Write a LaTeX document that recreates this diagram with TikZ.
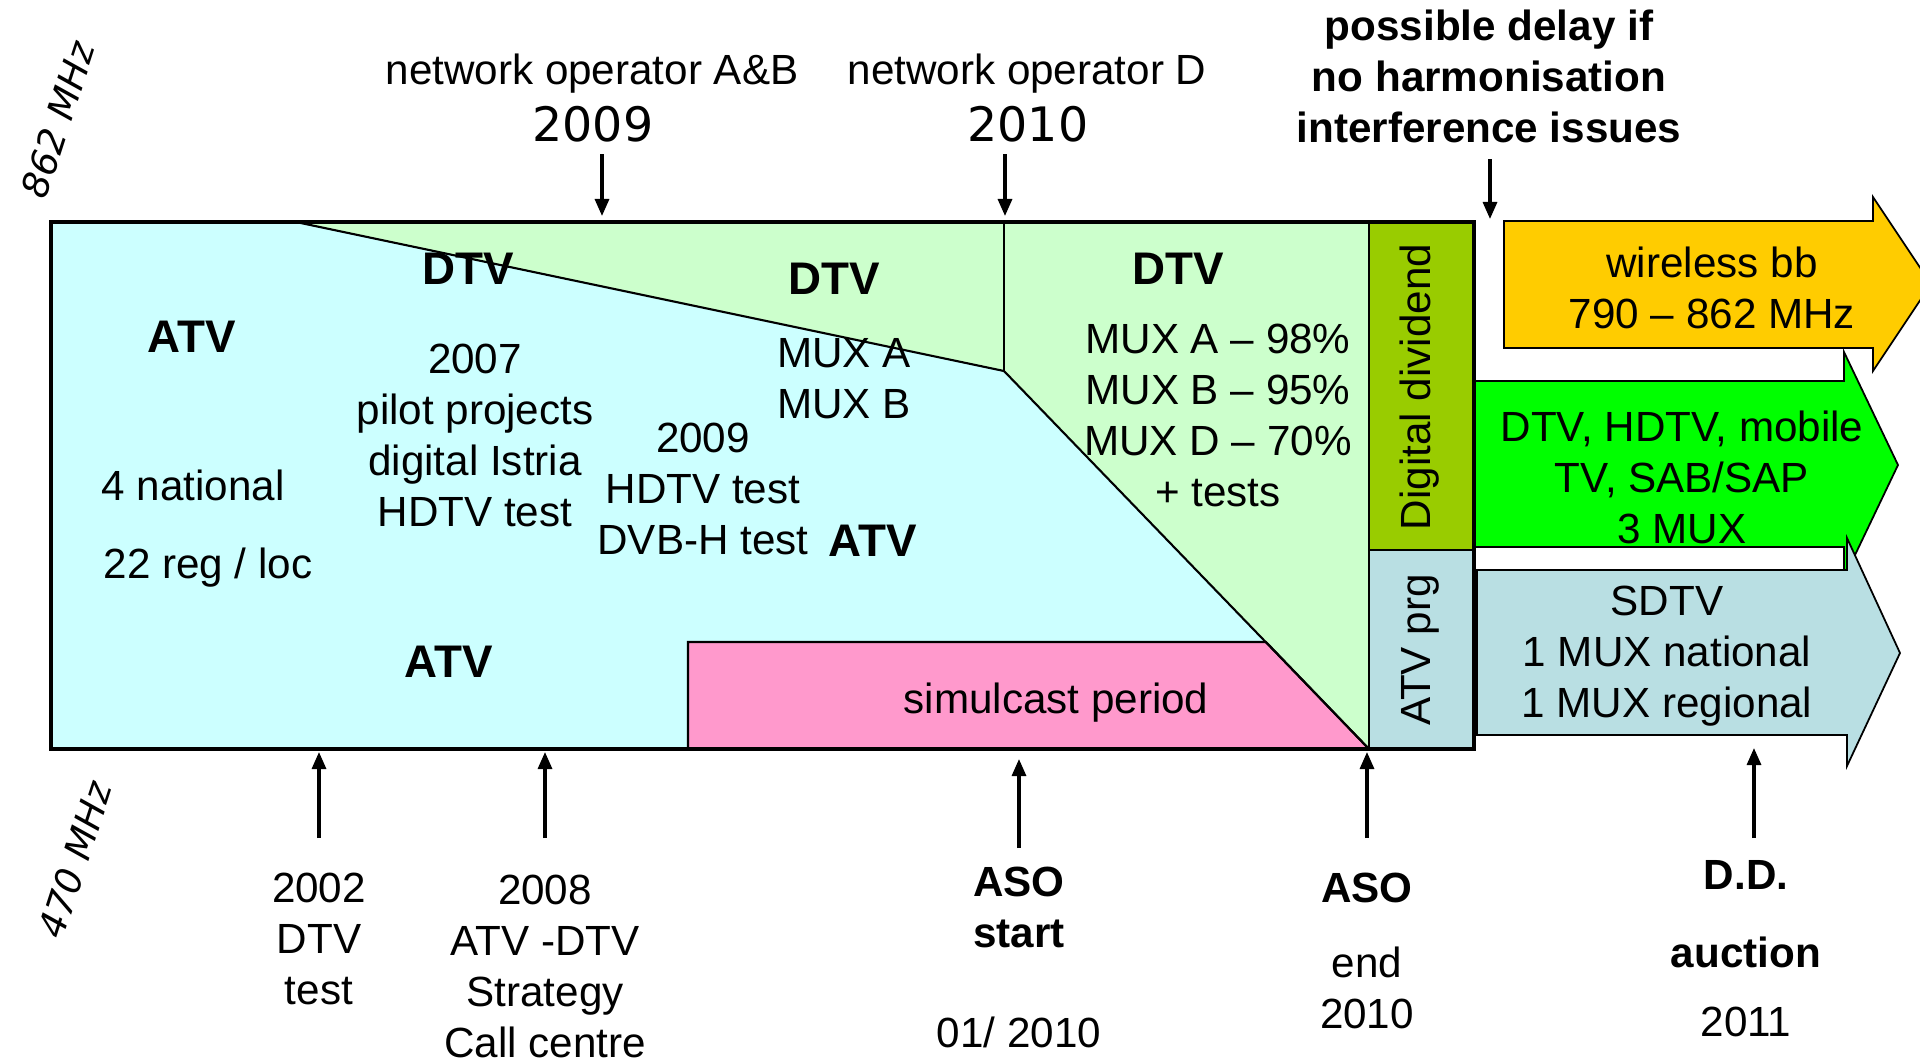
\documentclass[tikz,border=0pt]{standalone}
\usepackage{fontspec}
\setmainfont{Liberation Sans}
\newfontfamily\dvfont[ItalicFont={DejaVu Sans Oblique}]{DejaVu Sans}
\usetikzlibrary{arrows.meta}
\definecolor{atvcyan}{HTML}{CCFFFF}
\definecolor{dtvgreen}{HTML}{CCFFCC}
\definecolor{simpink}{HTML}{FF99CC}
\definecolor{divgreen}{HTML}{99CC00}
\definecolor{prgblue}{RGB}{185,223,227}
\definecolor{wbborange}{HTML}{FFCC00}
\definecolor{muxgreen}{HTML}{00FF00}

\begin{document}
\begin{tikzpicture}[x=0.01cm, y=-0.01cm,
    txt/.style = {font=\fontsize{12}{14.5}\selectfont, align=center, inner sep=0pt},
    bld/.style = {txt, font=\fontsize{12}{14.5}\selectfont\bfseries},
    lbl/.style = {font=\fontsize{13}{15}\selectfont\bfseries, inner sep=0pt}, % ATV / DTV
    yr/.style = {font=\dvfont\fontsize{13.5}{16}\selectfont, inner sep=0pt},
    mhz/.style = {font=\dvfont\itshape\fontsize{10.5}{12}\selectfont,
                inner sep=0pt, rotate=72},
    arr/.style = {line width=0.9pt, -{Triangle[length=1.7mm, width=1.4mm]}},
    blk/.style = {draw=black, line width=0.5pt}
                    ]
    \useasboundingbox (0,0) rectangle (1920,1060);
    \def\fl{51}
    \def\ft{222}
    \def\fr{1474}
    \def\fb{749}
    \def\cx{1369}
    \def\cy{550}
    % band
    \fill[atvcyan] (\fl,\ft) rectangle (\cx,\fb);
    \fill[dtvgreen] (296,\ft) -- (\cx,\ft) -- (\cx,\fb) -- (1004,371) -- cycle;
    \filldraw[fill=simpink, line width=0.6pt] (688,\fb) -- (688,642) -- (1266,642) -- (\cx,\fb);
    \draw[line width=0.6pt] (296,\ft) -- (1004,371) -- (\cx,\fb);
    \draw[line width=0.6pt] (1004,\ft) -- (1004,371);
    \filldraw[fill=divgreen, line width=0.6pt] (\cx,\ft) rectangle (\fr,\cy);
    \filldraw[fill=prgblue, line width=0.6pt] (\cx,\cy) rectangle (\fr,\fb);
    \draw[line width=1.2pt] (\fl,\ft) rectangle (\fr,\fb);
    % block arrows
    \filldraw[blk, fill=wbborange] (1504,221) -- (1873,221) -- (1873,197) -- (1931,284)
        -- (1873,371) -- (1873,348) -- (1504,348) -- cycle;
    \filldraw[blk, fill=muxgreen] (1475,381) -- (1844,381) -- (1844,352) -- (1898,465)
        -- (1844,578) -- (1844,547) -- (1475,547) -- cycle;
    \filldraw[blk, fill=prgblue] (1477,570) -- (1847,570) -- (1847,538) -- (1900,653)
        -- (1847,766) -- (1847,735) -- (1477,735) -- cycle;
    \node[txt] (wbb) at (1712,288) {wireless bb\\790 -- 862 MHz};
    \node[txt] (dtvm) at (1682,477) {DTV, HDTV, mobile\\TV, SAB/SAP\\3 MUX};
    \node[txt] (sdtv) at (1667,656) {SDTV\\1 MUX national\\1 MUX regional};
    % frequencies
    \node[mhz] (f862) at (58,120) {862 MHz};
    \node[mhz] (f470) at (75,860) {470 MHz};
    % inside the band
    \node[lbl] (atv1) at (192,337) {ATV};
    \node[txt] (nat) at (193,485) {4 national};
    \node[txt] (reg) at (208,568) {22 reg / loc};
    \node[lbl] (dtv1) at (468,269) {DTV};
    \node[txt] (p07) at (475,435) {2007\\pilot projects\\digital Istria\\HDTV test};
    \node[lbl] (dtv2) at (834,279) {DTV};
    \node[txt] (muxab) at (844,379) {MUX A\\MUX B};
    \node[txt] (p09) at (703,489) {2009\\HDTV test\\DVB-H test};
    \node[lbl] (atv2) at (873,541) {ATV};
    \node[lbl] (atv3) at (449,662) {ATV};
    \node[lbl] (dtv3) at (1178,269) {DTV};
    \node[txt] (cov) at (1218,415) {MUX A -- 98\%\\MUX B -- 95\%\\MUX D -- 70\%\\+ tests};
    \node[txt] (sim) at (1056,703) {simulcast period};
    \node[txt, rotate=90] (dd) at (1420,387) {Digital dividend};
    \node[txt, rotate=90] (prg) at (1420,650) {ATV prg};
    % top
    \node[txt] (opab) at (592,74) {network operator A\&B};
    \node[yr] (y09) at (593,124) {2009};
    \node[txt] (opd) at (1027,74) {network operator D};
    \node[yr] (y10) at (1028,124) {2010};
    \node[bld] (delay) at (1489,76) {possible delay if\\no harmonisation\\interference issues};
    \coordinate (s09) at (602,154);
    \coordinate (e09) at (602,216);
    \coordinate (s10) at (1005,154);
    \coordinate (e10) at (1005,216);
    \coordinate (sdl) at (1490,159);
    \coordinate (edl) at (1490,219);
    \draw[arr] (s09) -- (e09);
    \draw[arr] (s10) -- (e10);
    \draw[arr] (sdl) -- (edl);
    % bottom
    \node[txt] (d02) at (319,939) {2002\\DTV\\test};
    \node[txt] (d08) at (545,966) {2008\\ATV -DTV\\Strategy\\Call centre};
    \node[bld] (asos) at (1019,907) {ASO\\start};
    \node[txt] (asod) at (1019,1032) {01/ 2010};
    \node[bld] (asoe) at (1367,888) {ASO};
    \node[txt] (asoy) at (1367,988) {end\\2010};
    \node[bld] (ddl) at (1746,875) {D.D.};
    \node[bld] (dda) at (1746,952) {auction};
    \node[txt] (ddy) at (1746,1022) {2011};
    \coordinate (s02) at (319,838);
    \coordinate (e02) at (319,752);
    \coordinate (s08) at (545,838);
    \coordinate (e08) at (545,752);
    \coordinate (sas) at (1019,848);
    \coordinate (eas) at (1019,759);
    \coordinate (sae) at (1367,838);
    \coordinate (eae) at (1367,752);
    \coordinate (sdd) at (1754,838);
    \coordinate (edd) at (1754,748);
    \draw[arr] (s02) -- (e02);
    \draw[arr] (s08) -- (e08);
    \draw[arr] (sas) -- (eas);
    \draw[arr] (sae) -- (eae);
    \draw[arr] (sdd) -- (edd);
\end{tikzpicture}
\end{document}
